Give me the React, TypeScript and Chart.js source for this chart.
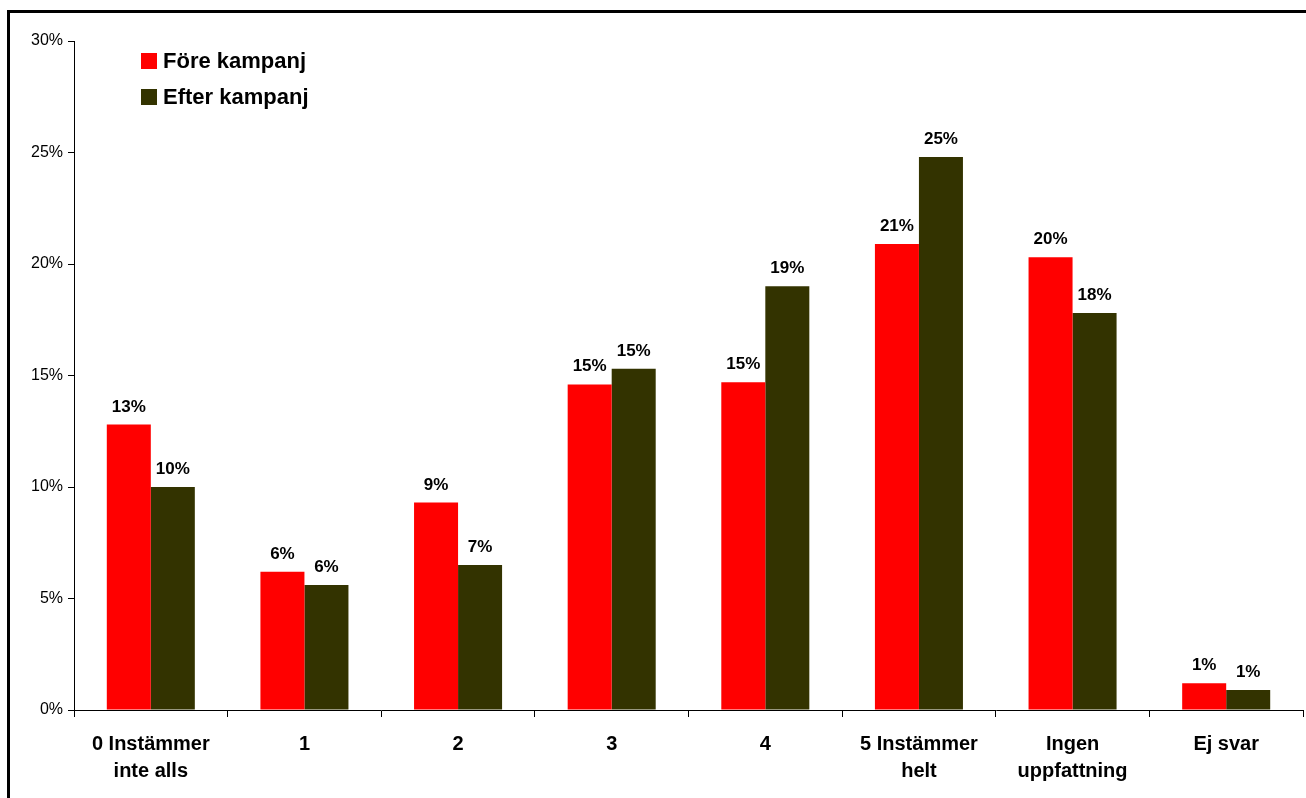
import React, { useEffect, useRef } from "react";
import { Chart, registerables } from "chart.js";

Chart.register(...registerables);

const categories: (string | string[])[] = [
  ["0 Instämmer", "inte alls"],
  "1",
  "2",
  "3",
  "4",
  ["5 Instämmer", "helt"],
  ["Ingen", "uppfattning"],
  "Ej svar",
];
const foreValues = [12.8, 6.2, 9.3, 14.6, 14.7, 20.9, 20.3, 1.2];
const efterValues = [10.0, 5.6, 6.5, 15.3, 19.0, 24.8, 17.8, 0.9];
const foreLabel = "Före kampanj";
const efterLabel = "Efter kampanj";
const yTicks = [0, 5, 10, 15, 20, 25, 30];

const FONT = "'Liberation Sans', Arial, sans-serif";

const labelPlugin = {
  id: "valueLabels",
  afterDatasetsDraw(chart: any) {
    const ctx = chart.ctx;
    ctx.save();
    ctx.font = `bold 17px ${FONT}`;
    ctx.fillStyle = "#000";
    ctx.textAlign = "center";
    ctx.textBaseline = "alphabetic";
    chart.data.datasets.forEach((ds: any, i: number) => {
      const meta = chart.getDatasetMeta(i);
      meta.data.forEach((bar: any, j: number) => {
        const v = ds.data[j];
        ctx.fillText(Math.round(v) + "%", bar.x, bar.y - 13);
      });
    });
    ctx.restore();
  },
};

const legendPlugin = {
  id: "customLegend",
  afterDraw(chart: any) {
    const ctx = chart.ctx;
    ctx.save();
    ctx.font = `bold 22px ${FONT}`;
    ctx.textBaseline = "middle";
    ctx.textAlign = "left";
    chart.data.datasets.forEach((ds: any, i: number) => {
      const x = chart.chartArea.left + 67;
      const y = chart.chartArea.top + 20 + i * 36;
      ctx.fillStyle = ds.backgroundColor;
      ctx.fillRect(x, y - 8, 16, 16);
      ctx.fillStyle = "#000";
      ctx.fillText(ds.label, x + 22, y + 1);
    });
    ctx.restore();
  },
};

export default function App() {
  const ref = useRef<HTMLCanvasElement | null>(null);
  useEffect(() => {
    if (!ref.current) return;
    const chart = new Chart(ref.current, {
      type: "bar",
      data: {
        labels: categories,
        datasets: [
          {
            label: foreLabel,
            data: foreValues,
            backgroundColor: "#FF0000",
            barPercentage: 1,
            categoryPercentage: 0.573,
          },
          {
            label: efterLabel,
            data: efterValues,
            backgroundColor: "#333300",
            barPercentage: 1,
            categoryPercentage: 0.573,
          },
        ],
      },
      options: {
        animation: false,
        responsive: false,
        maintainAspectRatio: false,
        layout: { padding: { left: 10, top: 41, right: 3, bottom: 0 } },
        plugins: {
          legend: { display: false },
          tooltip: { enabled: false },
        },
        scales: {
          x: {
            offset: true,
            grid: {
              offset: true,
              drawOnChartArea: false,
              tickLength: 7,
              color: "#000",
            },
            border: { color: "#000", width: 1 },
            ticks: {
              color: "#000",
              font: { family: FONT, size: 20, weight: "bold", lineHeight: 1.35 },
              padding: 14,
              maxRotation: 0,
              autoSkip: false,
            },
            afterFit(scale: any) {
              scale.height = 88;
            },
          },
          y: {
            min: 0,
            max: 30,
            afterBuildTicks(scale: any) {
              scale.ticks = yTicks.map((v) => ({ value: v }));
            },
            grid: {
              drawOnChartArea: false,
              tickLength: 6,
              color: "#000",
            },
            border: { color: "#000", width: 1 },
            ticks: {
              color: "#000",
              font: { family: FONT, size: 16 },
              padding: 5,
              callback: (v: any) => v + "%",
            },
            afterFit(scale: any) {
              scale.width = 64;
            },
          },
        },
      },
      plugins: [labelPlugin, legendPlugin],
    } as any);
    return () => chart.destroy();
  }, []);

  return (
    <div
      style={{
        position: "fixed",
        left: 0,
        top: 0,
        width: 1306,
        height: 798,
        overflow: "hidden",
        background: "#fff",
      }}
    >
      <canvas
        ref={ref}
        width={1306}
        height={798}
        style={{ position: "absolute", left: 0, top: 0, width: 1306, height: 798 }}
      />
      <div
        style={{
          position: "absolute",
          left: 7,
          top: 10,
          width: 1400,
          height: 900,
          border: "3px solid #000",
          pointerEvents: "none",
        }}
      />
    </div>
  );
}
